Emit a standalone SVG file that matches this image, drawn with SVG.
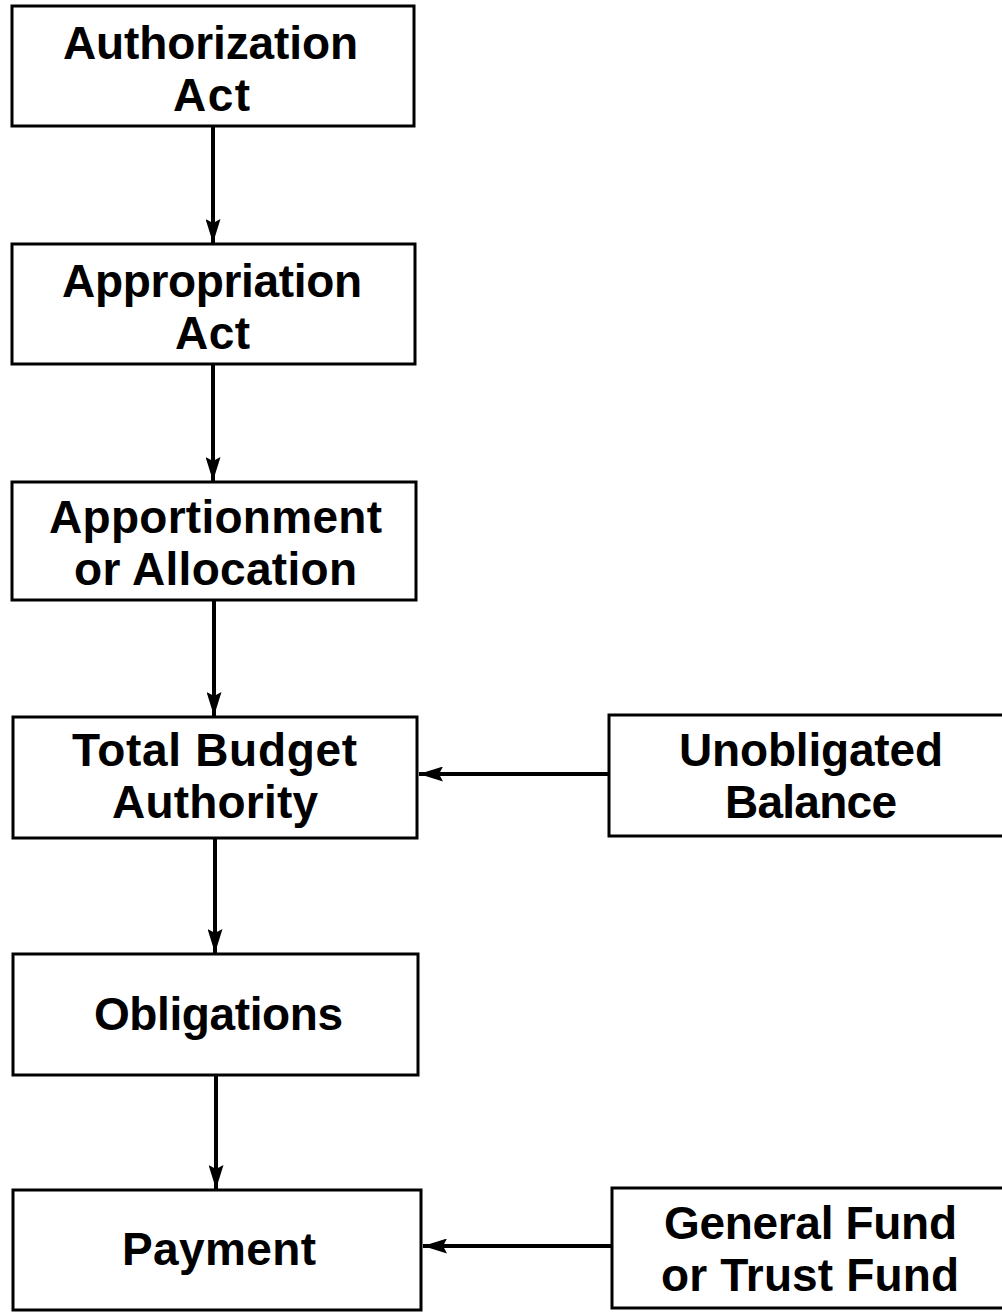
<svg xmlns="http://www.w3.org/2000/svg" width="1002" height="1312" viewBox="0 0 1002 1312">
<style>
.box{fill:#fff;stroke:#000;stroke-width:3}
.lbl{font-family:"Liberation Sans",Arial,sans-serif;font-weight:bold;font-size:46px;fill:#000;text-anchor:middle}
.conn{stroke:#000;stroke-width:4;fill:none}
</style>
<defs>
<marker id="ah" markerUnits="userSpaceOnUse" viewBox="0 0 24 15" refX="24" refY="7.5" markerWidth="24" markerHeight="15" orient="auto">
<path d="M0,0 L24,7.5 L0,15 L4,7.5 Z" fill="#000"/>
</marker>
</defs>
<rect width="1002" height="1312" fill="#fff"/>
<g id="connectors">
<line class="conn" x1="213" y1="126" x2="213" y2="243" marker-end="url(#ah)"/>
<line class="conn" x1="213" y1="364" x2="213" y2="481" marker-end="url(#ah)"/>
<line class="conn" x1="214" y1="600" x2="214" y2="716" marker-end="url(#ah)"/>
<line class="conn" x1="215" y1="838" x2="215" y2="953" marker-end="url(#ah)"/>
<line class="conn" x1="216" y1="1075" x2="216" y2="1189" marker-end="url(#ah)"/>
<line class="conn" x1="609" y1="774" x2="419" y2="774" marker-end="url(#ah)"/>
<line class="conn" x1="612" y1="1246" x2="423" y2="1246" marker-end="url(#ah)"/>
</g>
<g id="authorization">
<rect class="box" x="12" y="6" width="402" height="120"/>
<text class="lbl" x="210.5" y="59" textLength="295" lengthAdjust="spacing">Authorization</text>
<text class="lbl" x="211.5" y="111" textLength="77" lengthAdjust="spacing">Act</text>
</g>
<g id="appropriation">
<rect class="box" x="12" y="244" width="403" height="120"/>
<text class="lbl" x="212" y="297" textLength="300" lengthAdjust="spacing">Appropriation</text>
<text class="lbl" x="212.5" y="349" textLength="75" lengthAdjust="spacing">Act</text>
</g>
<g id="apportionment">
<rect class="box" x="12" y="482" width="404" height="118"/>
<text class="lbl" x="215.5" y="533" textLength="333" lengthAdjust="spacing">Apportionment</text>
<text class="lbl" x="215.5" y="585" textLength="283" lengthAdjust="spacing">or Allocation</text>
</g>
<g id="total-budget-authority">
<rect class="box" x="13" y="717" width="404" height="121"/>
<text class="lbl" x="214.5" y="766" textLength="285" lengthAdjust="spacing">Total Budget</text>
<text class="lbl" x="215" y="818" textLength="206" lengthAdjust="spacing">Authority</text>
</g>
<g id="obligations">
<rect class="box" x="13" y="954" width="405" height="121"/>
<text class="lbl" x="218.5" y="1030" textLength="249" lengthAdjust="spacing">Obligations</text>
</g>
<g id="payment">
<rect class="box" x="13" y="1190" width="408" height="120"/>
<text class="lbl" x="219" y="1265" textLength="194" lengthAdjust="spacing">Payment</text>
</g>
<g id="unobligated-balance">
<rect class="box" x="609" y="715" width="400" height="121"/>
<text class="lbl" x="811" y="766" textLength="264" lengthAdjust="spacing">Unobligated</text>
<text class="lbl" x="811" y="818" textLength="172" lengthAdjust="spacing">Balance</text>
</g>
<g id="general-trust-fund">
<rect class="box" x="612" y="1188" width="400" height="120"/>
<text class="lbl" x="810.5" y="1239" textLength="293" lengthAdjust="spacing">General Fund</text>
<text class="lbl" x="810" y="1291" textLength="298" lengthAdjust="spacing">or Trust Fund</text>
</g>
</svg>
